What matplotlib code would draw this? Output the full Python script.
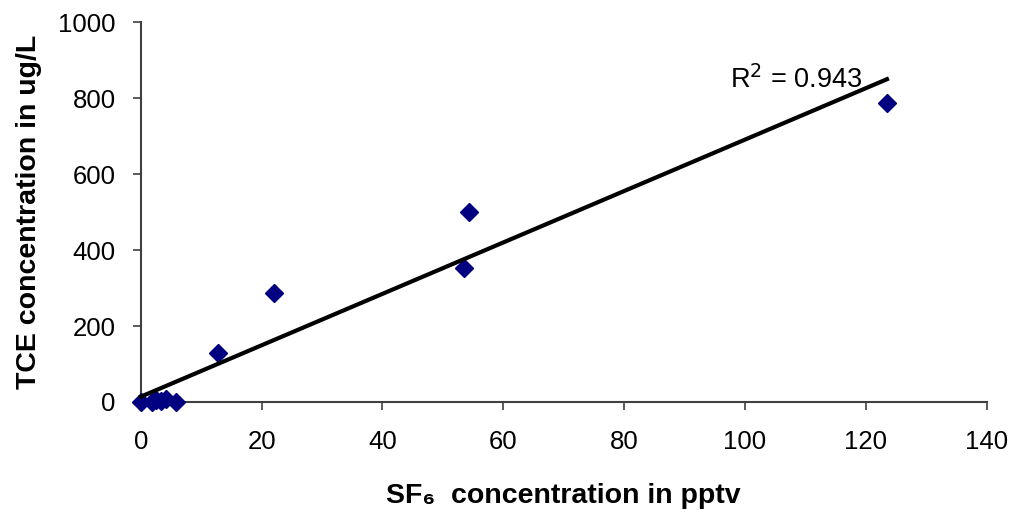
import numpy as np
import matplotlib
matplotlib.use("Agg")
import matplotlib.pyplot as plt

#===== DATA =====#
sf6 = [0.0, 1.8, 2.5, 3.3, 4.2, 5.8, 12.8, 22.0, 53.5, 54.3, 123.5]
tce = [0.0, 0.0, 5.0, 3.0, 8.0, 0.0, 129.0, 288.0, 352.0, 500.0, 788.0]
r2_label = "R$^2$ = 0.943"
x_ticks = [0, 20, 40, 60, 80, 100, 120, 140]
y_ticks = [0, 200, 400, 600, 800, 1000]

plt.rcParams['font.family'] = ['Liberation Sans', 'DejaVu Sans']

fig = plt.figure(figsize=(10.13, 5.13), dpi=100)
ax = fig.add_axes([0.139, 0.2164, 0.835, 0.7406])

# scatter points
ax.plot(sf6, tce, linestyle='none', marker='D', markersize=9,
        color='#000080', zorder=3)

# linear trend line (least squares)
coef = np.polyfit(sf6, tce, 1)
xs = np.array([min(sf6), max(sf6)])
ax.plot(xs, np.polyval(coef, xs), color='black', linewidth=3, zorder=4)

ax.text(97.5, 826, r2_label, fontsize=19.5, ha='left', va='baseline')

ax.set_xlim(0, 140)
ax.set_ylim(0, 1000)
ax.set_xticks(x_ticks)
ax.set_yticks(y_ticks)
ax.tick_params(axis='both', direction='out', length=6, width=1.2,
               labelsize=18.5, color='#404040')
ax.tick_params(axis='x', pad=14)
ax.tick_params(axis='y', pad=12)
for side in ['top', 'right']:
    ax.spines[side].set_visible(False)
for side in ['left', 'bottom']:
    ax.spines[side].set_color('#404040')
    ax.spines[side].set_linewidth(1.5)
for ln in ax.lines:
    ln.set_clip_on(False)

ax.set_xlabel("SF\u2086  concentration in pptv", fontsize=20.5,
              fontweight='bold', labelpad=21)
ax.set_ylabel("TCE concentration in ug/L", fontsize=20.5,
              fontweight='bold', labelpad=12)

fig.savefig("out.png", dpi=100)
